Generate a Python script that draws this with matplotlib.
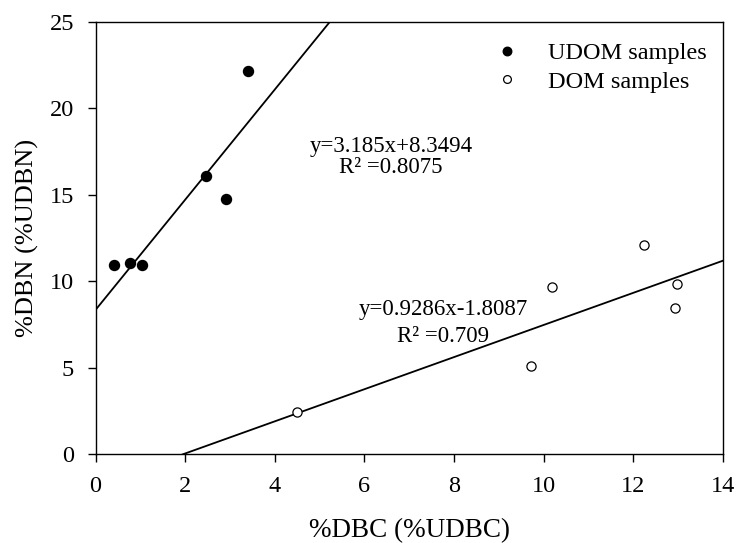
import matplotlib
matplotlib.use("Agg")
import matplotlib.pyplot as plt
import numpy as np

plt.rcParams['font.family'] = ['Liberation Serif', 'DejaVu Serif']

udom_x = [0.42, 0.78, 1.03, 2.46, 2.92, 3.41]
udom_y = [10.97, 11.06, 10.97, 16.1, 14.75, 22.19]
dom_x = [4.50, 9.73, 10.18, 12.24, 12.97, 12.93]
dom_y = [2.46, 5.12, 9.66, 12.1, 9.85, 8.44]

fit_u = (3.185, 8.3494)
fit_d = (0.9286, -1.8087)

fig = plt.figure(figsize=(7.37, 5.43), dpi=100)
ax = fig.add_axes([0.1296, 0.1633, 0.8510, 0.7962])

xu = np.array([0, (25 - fit_u[1]) / fit_u[0]])
ax.plot(xu, fit_u[0] * xu + fit_u[1], color='black', lw=1.3, zorder=2)
xd = np.array([-fit_d[1] / fit_d[0], 14])
ax.plot(xd, fit_d[0] * xd + fit_d[1], color='black', lw=1.3, zorder=2)

ax.plot(udom_x, udom_y, 'o', color='black', markersize=7.2, zorder=3, label='UDOM samples')
ax.plot(dom_x, dom_y, 'o', markerfacecolor='white', markeredgecolor='black',
        markeredgewidth=0.9, markersize=6.6, zorder=3, label='DOM samples')

ax.text(6.60, 16.27, 'y=3.185x+8.3494\nR² =0.8075', ha='center', va='baseline',
        multialignment='center', fontsize=16.5, linespacing=1.0)
ax.text(7.76, 6.5, 'y=0.9286x-1.8087\nR² =0.709', ha='center', va='baseline',
        multialignment='center', fontsize=16.5, linespacing=1.34)

ax.set_xlim(0, 14)
ax.set_ylim(0, 25)
ax.set_xticks([0, 2, 4, 6, 8, 10, 12, 14])
ax.set_yticks([0, 5, 10, 15, 20, 25])
ax.tick_params(direction='out', length=5.5, width=1.0, pad=10, labelsize=17.5, top=False, right=False)
for s in ax.spines.values():
    s.set_linewidth(1.0)
ax.set_xlabel('%DBC (%UDBC)', fontsize=19.5, labelpad=15)
ax.set_ylabel('%DBN (%UDBN)', fontsize=19, labelpad=7.5)

leg = ax.legend(loc='upper right', bbox_to_anchor=(1.005, 0.998), frameon=False,
                fontsize=17.5, handletextpad=0.69, borderaxespad=0.4,
                labelspacing=0.27, markerscale=0.85)

fig.savefig('out.png', dpi=100)
